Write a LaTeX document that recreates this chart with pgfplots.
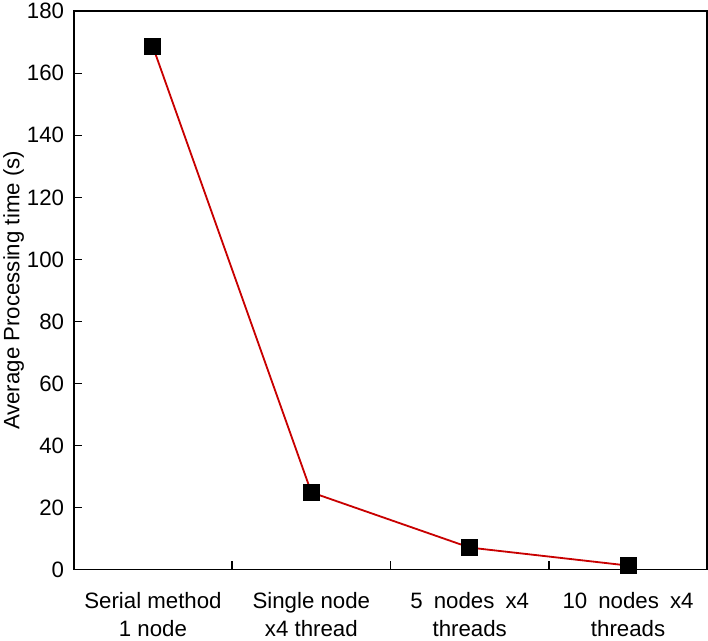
\documentclass[border=0pt]{standalone}
\usepackage{pgfplots}
\pgfplotsset{compat=1.18}
\usepackage{fontspec}
\setmainfont{Liberation Sans}
\begin{document}
\begin{tikzpicture}
\begin{axis}[
    scale only axis,
    width=624bp, height=550bp,
    xmin=0.5, xmax=4.5,
    ymin=0, ymax=180,
    ytick={0,20,...,180},
    xtick={1.5,2.5,3.5},
    xticklabels={},
    extra x ticks={1,2,3,4},
    extra x tick labels={Serial method\\1 node, Single node\\x4 thread, 5\enspace nodes\enspace x4\\threads, 10\enspace nodes\enspace x4\\threads},
    extra x tick style={tick style={draw=none}, xticklabel style={align=center, yshift=-19bp}},
    tick align=inside,
    major tick length=8bp,
    tick style={draw=black, line width=1.4pt},
    tick pos=left,
    axis line style={line width=1.5pt},
    font=\fontsize{22}{28}\selectfont,
    yticklabel style={xshift=-6bp},
    ylabel={Average Processing time (s)},
    ylabel style={yshift=-4bp},
    /pgf/number format/assume math mode=true,
    % y tick marks drawn by hand, the built-in ones do not show
    after end axis/.code={
        \foreach \t in {20,40,...,160}
            \draw[black, line width=1.4pt] (axis cs:0.5,\t) -- ++(8bp,0);
    },
]
\addplot[color={rgb,255:red,200;green,0;blue,0}, line width=1.8pt, mark=square*, mark size=7.5bp, mark options={black, solid}]
coordinates {(1,168.5) (2,24.9) (3,7.1) (4,1.3)};
\end{axis}
\end{tikzpicture}
\end{document}
